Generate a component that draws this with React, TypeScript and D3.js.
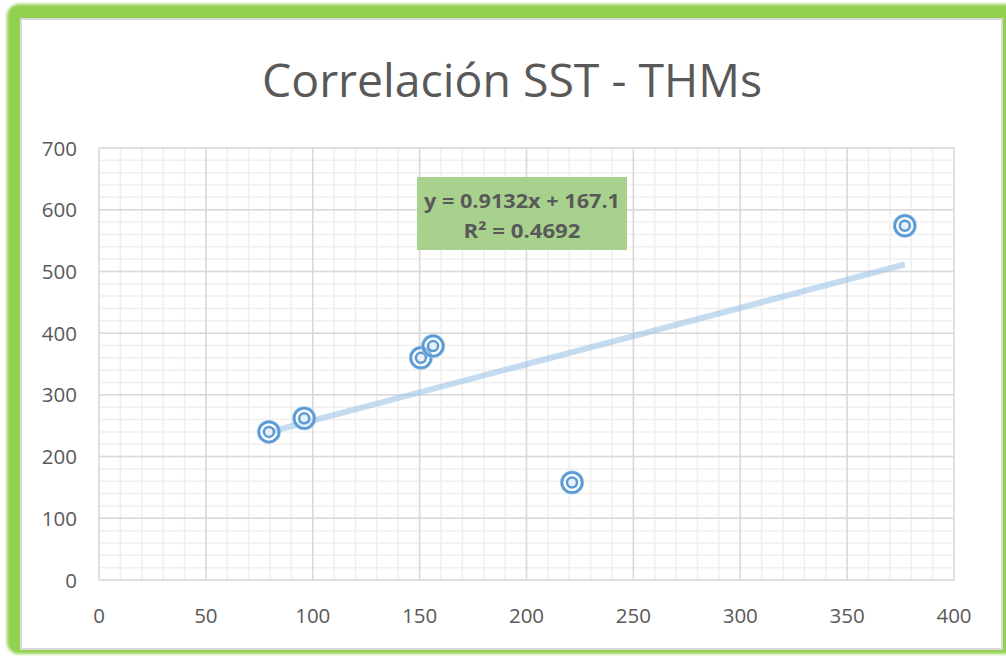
import React from "react";
import * as d3 from "d3";

const xValues = [79.5, 96, 150.6, 156.3, 221.3, 377];
const yValues = [240, 262, 360, 379, 158, 574];
const xTicks = [0, 50, 100, 150, 200, 250, 300, 350, 400];
const yTicks = [0, 100, 200, 300, 400, 500, 600, 700];
const slope = 0.9132;
const intercept = 167.1;
const titleText = "Correlación SST - THMs";
const eqLine1 = "y = 0.9132x + 167.1";
const eqLine2 = "R² = 0.4692";

export default function App() {
  const W = 1006, H = 656;
  const x = d3.scaleLinear().domain([0, 400]).range([99, 954]);
  const y = d3.scaleLinear().domain([0, 700]).range([580, 148]);
  const xMinor = d3.range(0, 401, 10);
  const yMinor = d3.range(0, 701, 20);
  const xMin = d3.min(xValues) as number;
  const xMax = d3.max(xValues) as number;
  const trend = d3.line<number>().x((v) => x(v)).y((v) => y(slope * v + intercept));
  const font = "'Open Sans', 'Noto Sans', sans-serif";
  const gray = "#595959";
  return (
    <svg width={W} height={H} style={{ position: "absolute", left: 0, top: 0, display: "block" }}>
      <defs>
        <filter id="glow" x="-5%" y="-5%" width="110%" height="110%">
          <feGaussianBlur stdDeviation="1.6" />
        </filter>
        <filter id="mshadow" x="-50%" y="-50%" width="200%" height="200%">
          <feGaussianBlur stdDeviation="0.6" />
        </filter>
      </defs>
      <rect x={0} y={0} width={W} height={H} fill="#ffffff" />
      <rect x={7} y={4} width={1010} height={650} rx={12} fill="#92d050" filter="url(#glow)" />
      <rect x={21} y={19} width={981} height={630} fill="#ffffff" stroke="#d9d9d9" strokeWidth={2} />
      <text x={512} y={97} textAnchor="middle" fontFamily={font} fontSize={46} fill={gray} textLength={500} lengthAdjust="spacingAndGlyphs">
        {titleText}
      </text>
      {xMinor.map((v) => (
        <line key={"xm" + v} x1={x(v)} x2={x(v)} y1={y(0)} y2={y(700)} stroke="#efefef" strokeWidth={1.5} />
      ))}
      {yMinor.map((v) => (
        <line key={"ym" + v} x1={x(0)} x2={x(400)} y1={y(v)} y2={y(v)} stroke="#efefef" strokeWidth={1.5} />
      ))}
      {xTicks.map((v) => (
        <line key={"xM" + v} x1={x(v)} x2={x(v)} y1={y(0)} y2={y(700)} stroke="#d9d9d9" strokeWidth={1.5} />
      ))}
      {yTicks.map((v) => (
        <line key={"yM" + v} x1={x(0)} x2={x(400)} y1={y(v)} y2={y(v)} stroke="#d9d9d9" strokeWidth={1.5} />
      ))}
      {yTicks.map((v) => (
        <text key={"yl" + v} x={77} y={y(v) + 7.5} textAnchor="end" fontFamily={font} fontSize={20.5} fill={gray}>
          {v}
        </text>
      ))}
      {xTicks.map((v) => (
        <text key={"xl" + v} x={x(v)} y={623} textAnchor="middle" fontFamily={font} fontSize={20.5} fill={gray}>
          {v}
        </text>
      ))}
      <path d={trend([xMin, xMax]) || ""} stroke="#9dc3e6" strokeOpacity={0.6} strokeWidth={6} fill="none" />
      {xValues.map((v, i) => (
        <g key={"p" + i}>
          <circle cx={x(v)} cy={y(yValues[i])} r={10.5} fill="none" stroke="#9dc3e6" strokeWidth={3} filter="url(#mshadow)" />
          <circle cx={x(v)} cy={y(yValues[i])} r={10} fill="#ffffff" fillOpacity={0.3} stroke="#5b9bd5" strokeWidth={2.5} />
          <circle cx={x(v)} cy={y(yValues[i])} r={5} fill="#e8f0f8" stroke="#5b9bd5" strokeWidth={2.5} />
        </g>
      ))}
      <rect x={417} y={177} width={210} height={73} fill="#a9d18e" />
      <text x={522} y={208} textAnchor="middle" fontFamily={font} fontSize={20} fontWeight="bold" fill={gray} textLength={196} lengthAdjust="spacingAndGlyphs">
        {eqLine1}
      </text>
      <text x={522} y={238} textAnchor="middle" fontFamily={font} fontSize={20} fontWeight="bold" fill={gray} textLength={117} lengthAdjust="spacingAndGlyphs">
        {eqLine2}
      </text>
    </svg>
  );
}
